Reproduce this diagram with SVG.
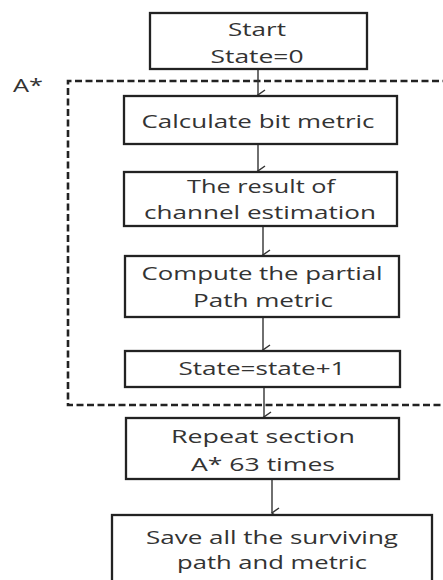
<svg xmlns="http://www.w3.org/2000/svg" width="443" height="580" viewBox="0 0 443 580">
<defs>
<marker id="arr" markerWidth="14" markerHeight="14" refX="7" refY="12" orient="auto" markerUnits="userSpaceOnUse" viewBox="0 0 14 14">
<path d="M2,5 L7,12 L12,5" fill="none" stroke="#333" stroke-width="1.5"/>
</marker>
</defs>
<style>
.box{fill:#fff;stroke:#222;stroke-width:2.3}
.t{font-family:"Open Sans","Liberation Sans",sans-serif;font-size:19px;fill:#333;text-anchor:middle}
.s{font-size:18px}
.c{stroke:#333;stroke-width:1.4;fill:none;marker-end:url(#arr)}
.dash{fill:none;stroke:#222;stroke-width:2.6;stroke-dasharray:7,3.5}
</style>
<rect width="443" height="580" fill="#fff"/>
<g id="region-a">
<path class="dash" d="M460,81 L68,81 L68,405 L460,405"/>
<text class="t" x="28" y="92" textLength="30" lengthAdjust="spacingAndGlyphs">A*</text>
</g>
<g id="connectors">
<line class="c" x1="258" y1="69" x2="258" y2="95"/>
<line class="c" x1="258" y1="144" x2="258" y2="171"/>
<line class="c" x1="263" y1="226" x2="263" y2="255"/>
<line class="c" x1="263" y1="317" x2="263" y2="350"/>
<line class="c" x1="264" y1="387" x2="264" y2="417"/>
<line class="c" x1="272" y1="479" x2="272" y2="513"/>
</g>
<g id="start">
<rect class="box" x="150" y="13" width="217" height="56"/>
<text class="t" x="257" y="36" textLength="58" lengthAdjust="spacingAndGlyphs">Start</text>
<text class="t" x="257" y="63" textLength="93" lengthAdjust="spacingAndGlyphs">State=0</text>
</g>
<g id="calc">
<rect class="box" x="124" y="96" width="273" height="48"/>
<text class="t" x="258" y="128" textLength="233" lengthAdjust="spacingAndGlyphs">Calculate bit metric</text>
</g>
<g id="result">
<rect class="box" x="124" y="172" width="273" height="54"/>
<text class="t" x="261" y="193" textLength="148" lengthAdjust="spacingAndGlyphs">The result of</text>
<text class="t" x="260" y="219" textLength="232" lengthAdjust="spacingAndGlyphs">channel estimation</text>
</g>
<g id="compute">
<rect class="box" x="125" y="256" width="274" height="61"/>
<text class="t" x="262" y="280" textLength="241" lengthAdjust="spacingAndGlyphs">Compute the partial</text>
<text class="t" x="263" y="307" textLength="140" lengthAdjust="spacingAndGlyphs">Path metric</text>
</g>
<g id="state">
<rect class="box" x="125" y="351" width="275" height="36"/>
<text class="t" x="262" y="375" textLength="167" lengthAdjust="spacingAndGlyphs">State=state+1</text>
</g>
<g id="repeat">
<rect class="box" x="126" y="418" width="273" height="61"/>
<text class="t" x="263" y="443" textLength="184" lengthAdjust="spacingAndGlyphs">Repeat  section</text>
<text class="t" x="263" y="471" textLength="144" lengthAdjust="spacingAndGlyphs">A* 63 times</text>
</g>
<g id="save">
<rect class="box" x="112" y="515" width="320" height="80"/>
<text class="t s" x="272" y="544" textLength="252" lengthAdjust="spacingAndGlyphs">Save all the surviving</text>
<text class="t s" x="272" y="569" textLength="190" lengthAdjust="spacingAndGlyphs">path and metric</text>
</g>
</svg>
